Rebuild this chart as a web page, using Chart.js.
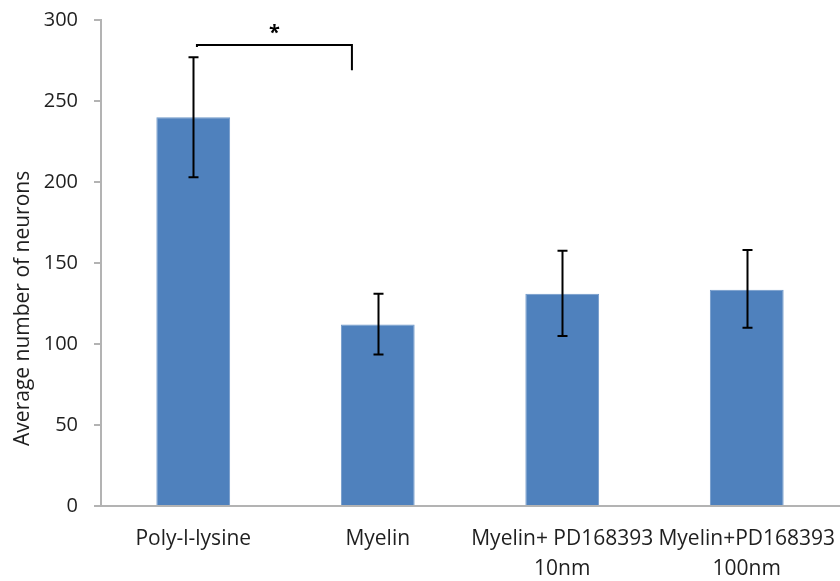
<!DOCTYPE html>
<html>
<head>
<meta charset="utf-8">
<script src="https://cdn.jsdelivr.net/npm/chart.js@4/dist/chart.umd.min.js"></script>
<style>
  html, body { margin: 0; padding: 0; background: #fff; }
  #wrap { width: 840px; height: 581px; }
</style>
</head>
<body>
<div id="wrap"><canvas id="c" width="840" height="581"></canvas></div>
<script>
// Neuron counts per substrate condition
const categories = [
  'Poly-l-lysine',
  'Myelin',
  ['Myelin+ PD168393', '10nm'],
  ['Myelin+PD168393', '100nm']
];
const meanNeurons = [240, 112, 131, 133.5];
const errLow = [203, 93.5, 105, 110];
const errHigh = [277, 131, 157.5, 158];
const yTicks = [0, 50, 100, 150, 200, 250, 300];
const yTitle = 'Average number of neurons';

// Significance bracket between the first two bars
const bracket = { from: 0, to: 1, level: 284.5, legBottom: 269, label: '*' };

const FONT = "'Open Sans', 'Noto Sans', sans-serif";
const TEXT = '#1f1f1f';

const overlays = {
  id: 'overlays',
  afterDatasetsDraw(chart) {
    const { ctx, scales: { x, y } } = chart;
    ctx.save();
    ctx.strokeStyle = '#000';
    ctx.lineWidth = 2;
    // error bars
    meanNeurons.forEach((v, i) => {
      const cx = Math.round(x.getPixelForValue(i)) + 0.5;
      const yTop = y.getPixelForValue(errHigh[i]);
      const yBot = y.getPixelForValue(errLow[i]);
      ctx.beginPath();
      ctx.moveTo(cx, yTop); ctx.lineTo(cx, yBot);
      ctx.moveTo(cx - 5, yTop); ctx.lineTo(cx + 5, yTop);
      ctx.moveTo(cx - 5, yBot); ctx.lineTo(cx + 5, yBot);
      ctx.stroke();
    });
    // significance bracket
    const w = x.getPixelForValue(1) - x.getPixelForValue(0);
    const x1 = x.getPixelForValue(bracket.from) + 0.02 * w;
    const x2 = x.getPixelForValue(bracket.to) - 0.14 * w;
    const yl = y.getPixelForValue(bracket.level);
    const yb = y.getPixelForValue(bracket.legBottom);
    ctx.beginPath();
    ctx.moveTo(x1, yl + 2);
    ctx.lineTo(x1, yl);
    ctx.lineTo(x2, yl);
    ctx.lineTo(x2, yb);
    ctx.stroke();
    ctx.fillStyle = '#000';
    ctx.font = "bold 20px " + FONT;
    ctx.textAlign = 'center';
    ctx.textBaseline = 'middle';
    ctx.fillText(bracket.label, (x1 + x2) / 2, yl - 12);
    // y-axis title, rotated
    ctx.fillStyle = TEXT;
    ctx.font = "21px " + FONT;
    ctx.translate(23, y.getPixelForValue(122));
    ctx.rotate(-Math.PI / 2);
    ctx.fillText(yTitle, 0, 0);
    ctx.restore();
  }
};

new Chart(document.getElementById('c'), {
  type: 'bar',
  data: {
    labels: categories,
    datasets: [{
      data: meanNeurons,
      backgroundColor: '#4f81bd',
      borderColor: '#6f98c9',
      borderWidth: 1,
      categoryPercentage: 1,
      barPercentage: 0.4
    }]
  },
  options: {
    responsive: false,
    animation: false,
    devicePixelRatio: 1,
    layout: { padding: { top: 20, right: 1, left: 0, bottom: 0 } },
    plugins: { legend: { display: false }, tooltip: { enabled: false } },
    scales: {
      x: {
        grid: { display: false },
        border: { display: true, color: '#b3b3b3', width: 2 },
        ticks: { color: TEXT, font: { family: FONT, size: 21, lineHeight: 1.43 }, padding: 10, maxRotation: 0, autoSkip: false },
        afterFit(s) { s.height = 75; s.paddingLeft = 0; s.paddingRight = 0; }
      },
      y: {
        min: 0, max: 300,
        afterBuildTicks(s) { s.ticks = yTicks.map(v => ({ value: v })); },
        grid: { drawOnChartArea: false, tickLength: 7, color: '#b3b3b3', lineWidth: 2 },
        border: { display: true, color: '#b3b3b3', width: 2 },
        ticks: { color: TEXT, font: { family: FONT, size: 20 }, padding: 16 },
        afterFit(s) { s.width = 101; s.paddingTop = 0; s.paddingBottom = 0; }
      }
    }
  },
  plugins: [overlays]
});
</script>
</body>
</html>
